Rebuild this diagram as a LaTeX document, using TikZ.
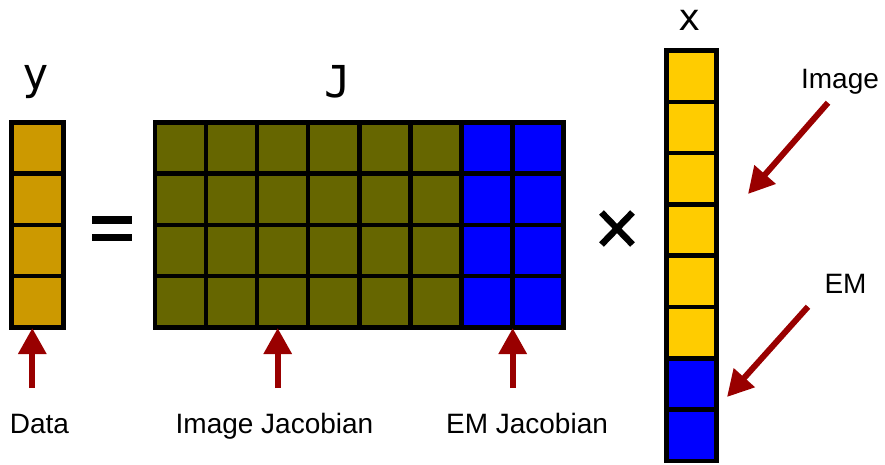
\documentclass[tikz,border=0pt]{standalone}
\usepackage{fontspec}
\setmainfont{Liberation Sans}
\newfontfamily\monofont{DejaVu Sans Mono}
\usetikzlibrary{arrows.meta}
\definecolor{ycol}{HTML}{CC9900}
\definecolor{olivecol}{HTML}{666600}
\definecolor{bluecol}{HTML}{0000FF}
\definecolor{xcol}{HTML}{FFCC00}
\definecolor{arrowred}{HTML}{990000}
\begin{document}
\begin{tikzpicture}[x=1pt,y=-1pt,
  gridline/.style={line width=4.6pt,black},
  redarrow/.style={line width=6pt,draw=arrowred,-{Triangle[length=26pt,width=27pt,fill=arrowred]}},
  lbl/.style={font=\fontsize{28}{31}\selectfont,inner sep=0pt,anchor=base},
  big/.style={font=\monofont\fontsize{44}{48}\selectfont,inner sep=0pt,anchor=base}]
\useasboundingbox (0,0) rectangle (885,464);

% y vector
\fill[ycol] (11.75,122.5) rectangle (63.25,327.3);
\foreach \r in {173.7,225,276.1}
  \draw[gridline] (11.75,\r) -- (63.25,\r);
\draw[gridline] (11.75,122.5) rectangle (63.25,327.3);

% J matrix
\fill[olivecol] (155,122.5) rectangle (461.4,327.3);
\fill[bluecol] (461.4,122.5) rectangle (563.5,327.3);
\foreach \r in {173.7,225,276.1}
  \draw[gridline] (155,\r) -- (563.5,\r);
\foreach \k in {1,...,7}
  \draw[gridline] ({155+51.06*\k},122.5) -- ({155+51.06*\k},327.3);
\draw[gridline] (155,122.5) rectangle (563.5,327.3);

% x vector
\fill[xcol] (666.3,50.5) rectangle (716.7,358.3);
\fill[bluecol] (666.3,358.3) rectangle (716.7,461);
\foreach \k in {1,...,7}
  \draw[gridline] (666.3,{50.5+51.31*\k}) -- (716.7,{50.5+51.31*\k});
\draw[gridline] (666.3,50.5) rectangle (716.7,461);

% equals sign
\fill[black] (92,216) rectangle (132,223.5);
\fill[black] (92,233.5) rectangle (132,241);

% times sign
\draw[black,line width=6.5pt] (601.5,212.5) -- (632.5,244.5);
\draw[black,line width=6.5pt] (632.5,212.5) -- (601.5,244.5);

% big labels
\node[big] (ylab) at (36,89) {y};
\node[big] (Jlab) at (338,97) {J};
\node[big,font=\monofont\fontsize{37}{40}\selectfont] (xlab) at (690,30) {x};

% text labels
\node[lbl] (data) at (39.5,433) {Data};
\node[lbl] (imjac) at (274.5,433) {Image Jacobian};
\node[lbl] (emjac) at (527,433) {EM Jacobian};
\node[lbl] (image) at (840,88) {Image};
\node[lbl] (em) at (845.5,293) {EM};

% arrow endpoints
\coordinate (dataT) at (32.3,388);
\coordinate (dataH) at (32.3,328);
\coordinate (imjacT) at (277.7,388);
\coordinate (imjacH) at (277.7,328);
\coordinate (emjacT) at (512.7,388);
\coordinate (emjacH) at (512.7,328);
\coordinate (imageT) at (828,102.7);
\coordinate (imageH) at (748,194);
\coordinate (emT) at (808,306.7);
\coordinate (emH) at (727,397);

\draw[redarrow] (dataT) -- (dataH);
\draw[redarrow] (imjacT) -- (imjacH);
\draw[redarrow] (emjacT) -- (emjacH);
\draw[redarrow] (imageT) -- (imageH);
\draw[redarrow] (emT) -- (emH);
\end{tikzpicture}
\end{document}
